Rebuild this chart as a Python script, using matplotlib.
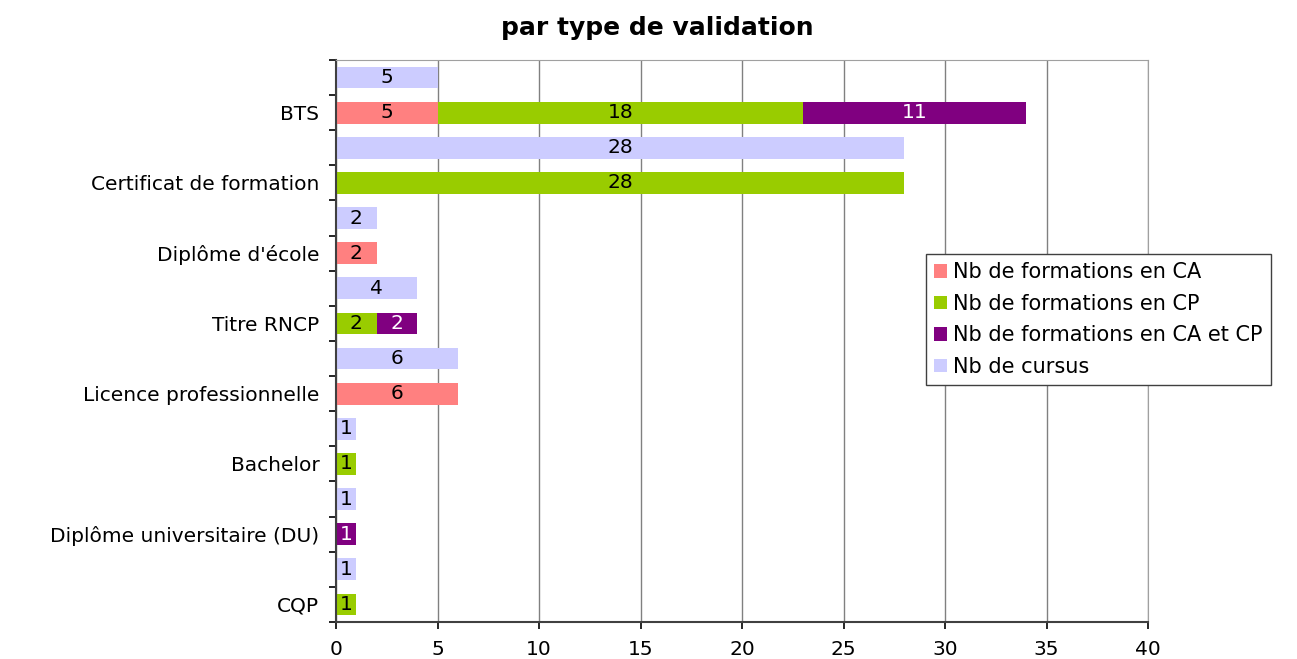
import numpy as np
import matplotlib.pyplot as plt

# données (de haut en bas)
categories = ["BTS", "Certificat de formation", "Diplôme d'école", "Titre RNCP",
              "Licence professionnelle", "Bachelor", "Diplôme universitaire (DU)", "CQP"]
nb_ca = [5, 0, 2, 0, 6, 0, 0, 0]
nb_cp = [18, 28, 0, 2, 0, 1, 0, 1]
nb_ca_cp = [11, 0, 0, 2, 0, 0, 1, 0]
nb_cursus = [5, 28, 2, 4, 6, 1, 1, 1]

series_names = ["Nb de formations en CA", "Nb de formations en CP",
                "Nb de formations en CA et CP", "Nb de cursus"]
colors = ["#FF8080", "#99CC00", "#800080", "#CCCCFF"]

plt.rcParams['font.family'] = ['DejaVu Sans']

fig = plt.figure(figsize=(12.97, 6.59), dpi=100)
ax = fig.add_axes([336 / 1297, 1 - 622 / 659, (1148 - 336) / 1297, (622 - 60) / 659])

n = len(categories)
y_stack = np.arange(n) * 2 + 1
y_cursus = np.arange(n) * 2
h = 0.62

ca = np.array(nb_ca)
cp = np.array(nb_cp)
cacp = np.array(nb_ca_cp)

b1 = ax.barh(y_stack, ca, height=h, color=colors[0], label=series_names[0])
b2 = ax.barh(y_stack, cp, left=ca, height=h, color=colors[1], label=series_names[1])
b3 = ax.barh(y_stack, cacp, left=ca + cp, height=h, color=colors[2], label=series_names[2])
b4 = ax.barh(y_cursus, nb_cursus, height=h, color=colors[3], label=series_names[3])

fs = 14.5
for bars, vals, tc in [(b1, ca, "black"), (b2, cp, "black"), (b3, cacp, "white"), (b4, nb_cursus, "black")]:
    for rect, v in zip(bars, vals):
        if v > 0:
            ax.text(rect.get_x() + rect.get_width() / 2, rect.get_y() + rect.get_height() / 2,
                    str(v), ha="center", va="center", fontsize=fs, color=tc)

ax.set_xlim(0, 40)
ax.set_ylim(2 * n - 0.5, -0.5)
ax.set_xticks(range(0, 41, 5))
ax.set_yticks(y_stack)
ax.set_yticklabels(categories)
ax.set_yticks(np.arange(-0.5, 2 * n, 1), minor=True)
ax.tick_params(axis="y", which="major", length=0, pad=12, labelsize=fs)
ax.tick_params(axis="y", which="minor", length=5, width=1.2, direction="out")
ax.tick_params(axis="x", length=5, width=1.2, pad=8, labelsize=fs)

ax.grid(axis="x", color="#808080", linewidth=1)
ax.set_axisbelow(True)
for s in ["top", "right"]:
    ax.spines[s].set_color("#A0A0A0")
for s in ["left", "bottom"]:
    ax.spines[s].set_color("#404040")
    ax.spines[s].set_linewidth(1.5)

fig.text(657 / 1297, 1 - 28 / 659, "par type de validation", ha="center", va="center",
         fontsize=18, fontweight="bold")

leg = fig.legend(loc="upper left", bbox_to_anchor=(926 / 1297, 1 - 254 / 659), fontsize=fs + 0.5,
                 handlelength=0.6, handleheight=0.6, handletextpad=0.3, labelspacing=0.55,
                 borderaxespad=0, borderpad=0.4, fancybox=False, edgecolor="#404040", framealpha=1)
leg.get_frame().set_linewidth(1)

fig.savefig("out.png", dpi=100)
